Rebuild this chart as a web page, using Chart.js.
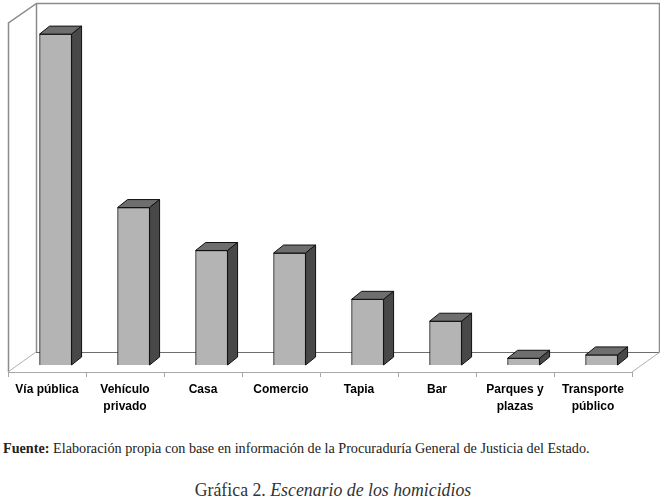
<!DOCTYPE html>
<html>
<head>
    <meta charset="UTF-8">
    <title>Escenario de los homicidios</title>
    <script src="https://cdn.jsdelivr.net/npm/chart.js"></script>
    <style>
        body { margin: 0; background: #fff; width: 660px; height: 500px; position: relative; overflow: hidden; }
        canvas { position: absolute; left: 0; top: 0; }
        .fuente { position: absolute; left: 3px; top: 440px; font: 14.2px "Liberation Serif", serif; color: #222; white-space: nowrap; }
        .caption { position: absolute; left: 0; width: 666px; top: 480px; text-align: center; font: 17.8px "Liberation Serif", serif; color: #333; white-space: nowrap; }
    </style>
</head>
<body>
    <canvas id="grafica" width="660" height="430"></canvas>
    <div class="fuente"><b>Fuente:</b> Elaboración propia con base en información de la Procuraduría General de Justicia del Estado.</div>
    <div class="caption">Gráfica 2. <i>Escenario de los homicidios</i></div>

    <script>
        const categorias = [["Vía pública"], ["Vehículo", "privado"], ["Casa"], ["Comercio"], ["Tapia"], ["Bar"], ["Parques y", "plazas"], ["Transporte", "público"]];
        const valores = [39.3, 18.7, 13.6, 13.3, 7.8, 5.2, 0.8, 1.2];

        // profundidad del efecto 3D
        const fondoX = 28, fondoY = 20;
        const barraX = 10, barraY = 8;

        function poligono(ctx, puntos, color) {
            ctx.beginPath();
            puntos.forEach((p, i) => i ? ctx.lineTo(p[0], p[1]) : ctx.moveTo(p[0], p[1]));
            ctx.closePath();
            ctx.fillStyle = color;
            ctx.fill();
            ctx.strokeStyle = "#111";
            ctx.lineWidth = 1;
            ctx.stroke();
        }

        const paredes = {
            id: "paredes",
            beforeDatasetsDraw(chart) {
                const { ctx, chartArea: a } = chart;
                ctx.save();
                ctx.lineWidth = 1.5;
                ctx.strokeStyle = "#8c8c8c";
                ctx.beginPath();
                // pared izquierda y pared de fondo
                ctx.moveTo(a.left + 0.5, a.bottom);
                ctx.lineTo(a.left + 0.5, a.top);
                ctx.lineTo(a.left + fondoX + 0.5, a.top - fondoY + 0.5);
                ctx.lineTo(a.right + fondoX - 0.5, a.top - fondoY + 0.5);
                ctx.lineTo(a.right + fondoX - 0.5, a.bottom - fondoY);
                ctx.moveTo(a.left + fondoX + 0.5, a.top - fondoY);
                ctx.lineTo(a.left + fondoX + 0.5, a.bottom - fondoY);
                ctx.stroke();
                // piso
                ctx.lineWidth = 1;
                ctx.strokeStyle = "#6e6e6e";
                ctx.beginPath();
                ctx.moveTo(a.left + fondoX, a.bottom - fondoY + 0.5);
                ctx.lineTo(a.right + fondoX, a.bottom - fondoY + 0.5);
                ctx.stroke();
                ctx.strokeStyle = "#b0b0b0";
                ctx.beginPath();
                ctx.moveTo(a.left, a.bottom);
                ctx.lineTo(a.left + fondoX, a.bottom - fondoY);
                ctx.moveTo(a.right, a.bottom);
                ctx.lineTo(a.right + fondoX, a.bottom - fondoY);
                ctx.stroke();
                ctx.restore();
            },
            afterDatasetsDraw(chart) {
                const ctx = chart.ctx;
                ctx.save();
                chart.getDatasetMeta(0).data.forEach(b => {
                    const izq = b.x - b.width / 2, der = b.x + b.width / 2;
                    poligono(ctx, [[izq, b.y], [izq + barraX, b.y - barraY], [der + barraX, b.y - barraY], [der, b.y]], "#6e6e6e");
                    poligono(ctx, [[der, b.y], [der + barraX, b.y - barraY], [der + barraX, b.base - barraY], [der, b.base]], "#484848");
                });
                ctx.restore();
            }
        };

        new Chart(document.getElementById("grafica"), {
            type: "bar",
            data: {
                datasets: [{
                    data: valores.map((v, i) => ({ x: i, y: v })),
                    xAxisID: "xb",
                    yAxisID: "y",
                    backgroundColor: "#b4b4b4",
                    borderColor: "#111",
                    borderWidth: 1,
                    barThickness: 32
                }]
            },
            options: {
                responsive: false,
                animation: false,
                layout: { padding: { left: 8, right: 28, top: 23, bottom: 0 } },
                plugins: { legend: { display: false }, tooltip: { enabled: false } },
                scales: {
                    x: {
                        type: "category",
                        labels: categorias,
                        offset: true,
                        afterFit(scale) { scale.height = 58; },
                        grid: { offset: true, drawOnChartArea: false, color: "#a8a8a8", tickLength: 5 },
                        border: { color: "#a8a8a8" },
                        ticks: {
                            autoSkip: false,
                            maxRotation: 0,
                            padding: 5,
                            color: "#000",
                            font: { family: "'Liberation Sans', Arial, sans-serif", size: 12, weight: "bold", lineHeight: 1.35 }
                        }
                    },
                    // eje oculto: las barras van algo a la derecha de las etiquetas
                    xb: { type: "linear", display: false, offset: false, min: -0.61, max: 7.39 },
                    y: { display: false, min: -0.83, max: 40.62 }
                }
            },
            plugins: [paredes]
        });
    </script>
</body>
</html>
